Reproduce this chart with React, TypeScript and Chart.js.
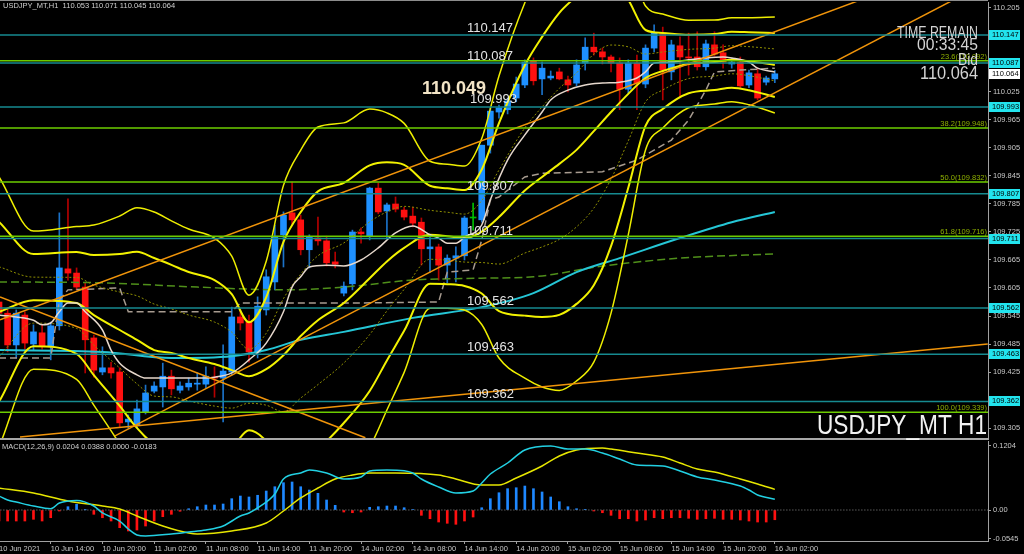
import React, { useEffect, useRef } from "react";
import { Chart, registerables } from "chart.js";
Chart.register(...registerables);

// ---------------- DATA ----------------
const tickIdx = [0, 6, 12, 18, 24, 30, 36, 42, 48, 54, 60, 66, 72, 78, 84, 90];
const tickLabels = ["10 Jun 2021", "10 Jun 14:00", "10 Jun 20:00", "11 Jun 02:00", "11 Jun 08:00", "11 Jun 14:00", "11 Jun 20:00", "14 Jun 02:00", "14 Jun 08:00", "14 Jun 14:00", "14 Jun 20:00", "15 Jun 02:00", "15 Jun 08:00", "15 Jun 14:00", "15 Jun 20:00", "16 Jun 02:00"];
const priceTicks = [110.205, 110.025, 109.965, 109.905, 109.845, 109.785, 109.725, 109.665, 109.605, 109.545, 109.485, 109.425, 109.305];
const macdTicks = [0.1204, 0, -0.0545];
const macdTickLabels = ["0.1204", "0.00", "-0.0545"];

const levels = [110.147, 110.087, 109.993, 109.807, 109.711, 109.562, 109.463, 109.362];
const fibLevels = [110.092, 109.948, 109.832, 109.716, 109.339];
const fibLabels = ["23.6(110.092)", "38.2(109.948)", "50.0(109.832)", "61.8(109.716)", "100.0(109.339)"];
const bidPrice = 110.064;
const markedPrice = 110.049;
const titleText = "USDJPY_MT,H1  110.053 110.071 110.045 110.064";
const macdText = "MACD(12,26,9) 0.0204 0.0388 0.0000 -0.0183";

const opens = [
  109.575, 109.551, 109.483, 109.547, 109.485, 109.509, 109.481, 109.524, 109.646, 109.637,
  109.607, 109.498, 109.425, 109.434, 109.425, 109.318, 109.311, 109.339, 109.384, 109.393,
  109.416, 109.386, 109.393, 109.399, 109.399, 109.414, 109.412, 109.425, 109.543, 109.532,
  109.468, 109.558, 109.618, 109.719, 109.766, 109.751, 109.687, 109.712, 109.706, 109.661,
  109.594, 109.614, 109.725, 109.716, 109.819, 109.770, 109.785, 109.772, 109.759, 109.746,
  109.689, 109.693, 109.654, 109.669, 109.674, 109.755, 109.751, 109.911, 109.982, 109.987,
  110.012, 110.040, 110.091, 110.053, 110.055, 110.068, 110.051, 110.044, 110.087, 110.121,
  110.111, 110.100, 110.087, 110.031, 110.087, 110.042, 110.119, 110.151, 110.068, 110.124,
  110.100, 110.100, 110.079, 110.126, 110.109, 110.085, 110.089, 110.040, 110.064, 110.046,
  110.053];
const highs = [
  109.584, 109.562, 109.558, 109.554, 109.526, 109.526, 109.532, 109.766, 109.796, 109.648,
  109.616, 109.504, 109.479, 109.446, 109.434, 109.333, 109.365, 109.397, 109.404, 109.444,
  109.429, 109.404, 109.412, 109.423, 109.436, 109.436, 109.483, 109.564, 109.558, 109.547,
  109.586, 109.644, 109.740, 109.768, 109.832, 109.761, 109.719, 109.757, 109.716, 109.682,
  109.618, 109.729, 109.734, 109.821, 109.830, 109.787, 109.800, 109.778, 109.778, 109.755,
  109.719, 109.699, 109.676, 109.693, 109.759, 109.787, 109.911, 109.991, 109.997, 110.012,
  110.057, 110.094, 110.098, 110.089, 110.070, 110.076, 110.059, 110.094, 110.141, 110.151,
  110.119, 110.104, 110.098, 110.094, 110.104, 110.126, 110.169, 110.164, 110.136, 110.143,
  110.151, 110.154, 110.136, 110.154, 110.126, 110.098, 110.100, 110.072, 110.076, 110.059,
  110.071];
const lows = [
  109.545, 109.468, 109.455, 109.474, 109.472, 109.474, 109.451, 109.515, 109.622, 109.601,
  109.423, 109.414, 109.419, 109.412, 109.307, 109.305, 109.305, 109.335, 109.380, 109.350,
  109.376, 109.380, 109.386, 109.386, 109.391, 109.371, 109.318, 109.419, 109.515, 109.446,
  109.455, 109.547, 109.601, 109.650, 109.740, 109.676, 109.648, 109.697, 109.652, 109.648,
  109.588, 109.601, 109.701, 109.708, 109.764, 109.712, 109.768, 109.751, 109.736, 109.654,
  109.639, 109.622, 109.616, 109.618, 109.665, 109.729, 109.746, 109.894, 109.969, 109.978,
  110.004, 110.034, 110.040, 110.019, 110.051, 110.051, 110.025, 110.038, 110.072, 110.104,
  110.085, 110.068, 109.987, 110.023, 109.987, 110.034, 110.111, 110.008, 110.051, 110.014,
  110.061, 110.072, 110.072, 110.102, 110.076, 110.076, 110.034, 110.034, 110.008, 110.040,
  110.045];
const closes = [
  109.551, 109.483, 109.551, 109.487, 109.511, 109.481, 109.524, 109.648, 109.637, 109.607,
  109.494, 109.429, 109.434, 109.423, 109.316, 109.324, 109.346, 109.380, 109.395, 109.416,
  109.389, 109.395, 109.401, 109.401, 109.416, 109.412, 109.427, 109.543, 109.530, 109.468,
  109.566, 109.629, 109.716, 109.761, 109.751, 109.687, 109.714, 109.706, 109.659, 109.656,
  109.609, 109.725, 109.721, 109.819, 109.768, 109.783, 109.774, 109.757, 109.744, 109.689,
  109.693, 109.654, 109.669, 109.674, 109.755, 109.755, 109.911, 109.984, 109.991, 110.006,
  110.042, 110.089, 110.049, 110.076, 110.059, 110.053, 110.040, 110.083, 110.121, 110.111,
  110.100, 110.087, 110.031, 110.087, 110.044, 110.119, 110.151, 110.072, 110.126, 110.100,
  110.098, 110.079, 110.128, 110.106, 110.089, 110.089, 110.038, 110.066, 110.012, 110.055,
  110.064];

// Bollinger (20) middle line and deviation
const bbIdx = [0, 4, 9, 11, 14, 16, 18, 20, 22, 25, 27, 29, 31, 33, 35, 37, 40, 43, 45, 47, 50, 52, 54, 56, 58, 61, 63, 65, 67, 69, 71, 73, 75, 77, 80, 83, 85, 87, 90];
const bbMid = [109.554, 109.579, 109.573, 109.547, 109.515, 109.494, 109.472, 109.466, 109.455, 109.442,
  109.429, 109.416, 109.431, 109.461, 109.502, 109.536, 109.573, 109.626, 109.662, 109.691,
  109.719, 109.716, 109.712, 109.726, 109.757, 109.814, 109.843, 109.871, 109.901, 109.941,
  109.982, 110.021, 110.055, 110.070, 110.085, 110.089, 110.094, 110.091, 110.083];
const bbDev = [0.0964, 0.0493, 0.0546, 0.0643, 0.0814, 0.0943, 0.0986, 0.0943, 0.0921, 0.0900,
  0.0814, 0.0579, 0.0771, 0.1213, 0.1328, 0.1380, 0.1286, 0.1208, 0.1061, 0.0889,
  0.0525, 0.0514, 0.0514, 0.0664, 0.1007, 0.1341, 0.1500, 0.1618, 0.1650, 0.1650,
  0.1436, 0.1007, 0.0514, 0.0407, 0.0313, 0.0300, 0.0300, 0.0311, 0.0343];

const maWhiteIdx = [0, 2, 4, 5, 6, 7, 8, 9, 10, 12, 13, 14, 16, 17, 20, 23, 25, 27, 29, 31, 33, 34, 35, 36, 38, 40, 42, 44, 46, 48, 50, 51, 52, 53, 54, 56, 57, 59, 61, 63, 64, 66, 68, 70, 72, 74, 75, 76, 78, 80, 82, 84, 85, 87, 88, 90];
const maWhite = [109.547, 109.543, 109.536, 109.526, 109.530, 109.554, 109.573, 109.573, 109.554, 109.515,
  109.472, 109.444, 109.419, 109.412, 109.412, 109.412, 109.414, 109.423, 109.451, 109.487,
  109.554, 109.607, 109.629, 109.650, 109.654, 109.652, 109.665, 109.691, 109.723, 109.738,
  109.719, 109.712, 109.701, 109.701, 109.714, 109.740, 109.794, 109.879, 109.933, 109.982,
  110.008, 110.029, 110.040, 110.044, 110.046, 110.055, 110.068, 110.087, 110.089, 110.094,
  110.098, 110.100, 110.098, 110.089, 110.076, 110.068];

const maGreyIdx = [0, 6, 7, 8, 14, 15, 27, 28, 42, 51, 52, 55, 56, 57, 58, 61, 63, 70, 74, 78, 80, 82, 83, 86, 90];
const maGrey = [109.455, 109.455, 109.579, 109.601, 109.605, 109.554, 109.554, 109.573, 109.573, 109.575,
  109.639, 109.644, 109.708, 109.794, 109.800, 109.843, 109.851, 109.854, 109.879, 109.922,
  109.965, 110.029, 110.068, 110.072, 110.076];

const maCyanIdx = [0, 12, 20, 27, 31, 35, 40, 48, 56, 62, 67, 72, 79, 85, 90];
const maCyan = [109.472, 109.468, 109.455, 109.459, 109.472, 109.494, 109.511, 109.541, 109.564, 109.594, 109.639, 109.669, 109.712, 109.746, 109.768];

const maGreenIdx = [0, 12, 23, 33, 40, 48, 56, 62, 70, 79, 90];
const maGreen = [109.618, 109.616, 109.607, 109.601, 109.607, 109.622, 109.626, 109.629, 109.652, 109.669, 109.678];

const trendStartIdx = [0.12, 13.46, 2.44, 0.12];
const trendStartPrice = [109.537, 109.288, 109.286, 109.586];
const trendEndIdx = [99.9, 110.7, 114.7, 42.5];
const trendEndPrice = [110.222, 110.222, 109.485, 109.284];

const hist = [
  -0.0207, -0.0207, -0.0207, -0.0207, -0.0175, -0.0207, -0.0145, -0.0019, 0.0062, 0.0107,
  0.0003, -0.0081, -0.0145, -0.0207, -0.0333, -0.0395, -0.0376, -0.0301, -0.0207, -0.0126,
  -0.0081, -0.0024, 0.0024, 0.0062, 0.0094, 0.0094, 0.0113, 0.0213, 0.0263, 0.0245,
  0.0277, 0.0357, 0.0438, 0.0514, 0.0527, 0.0438, 0.0376, 0.0314, 0.0188, 0.0088,
  -0.0038, -0.0051, -0.0038, 0.0051, 0.0062, 0.0075, 0.0075, 0.0043, 0.0008, -0.0100,
  -0.0164, -0.0226, -0.0250, -0.0269, -0.0207, -0.0132, 0.0043, 0.0213, 0.0325, 0.0401,
  0.0419, 0.0451, 0.0401, 0.0339, 0.0245, 0.0156, 0.0062, 0.0024, 0.0006, -0.0019,
  -0.0051, -0.0100, -0.0164, -0.0164, -0.0207, -0.0188, -0.0145, -0.0164, -0.0145, -0.0145,
  -0.0156, -0.0175, -0.0164, -0.0156, -0.0175, -0.0175, -0.0188, -0.0207, -0.0226, -0.0226,
  -0.0183];

const macdIdx = [0, 1, 2, 4, 6, 7, 9, 11, 12, 14, 15, 16, 17, 20, 22, 24, 26, 28, 29, 30, 32, 33, 35, 36, 38, 40, 42, 43, 45, 47, 48, 49, 51, 53, 55, 56, 57, 59, 61, 64, 66, 68, 70, 72, 74, 77, 79, 81, 83, 86, 87, 88, 90];
const macdLine = [0.0263, 0.0188, 0.0150, 0.0075, 0.0025, 0.0132, 0.0180, 0.0075, -0.0056, -0.0207,
  -0.0357, -0.0470, -0.0489, -0.0451, -0.0414, -0.0376, -0.0301, -0.0113, -0.0056, 0.0038,
  0.0301, 0.0583, 0.0696, 0.0752, 0.0696, 0.0583, 0.0621, 0.0734, 0.0752, 0.0740,
  0.0696, 0.0583, 0.0433, 0.0320, 0.0357, 0.0508, 0.0677, 0.0884, 0.1129, 0.1204,
  0.1147, 0.1147, 0.1072, 0.0959, 0.0846, 0.0828, 0.0734, 0.0621, 0.0564, 0.0451,
  0.0376, 0.0282, 0.0204];
const signalIdx = [0, 4, 8, 12, 14, 16, 19, 22, 23, 27, 31, 33, 35, 37, 39, 41, 43, 46, 51, 53, 56, 58, 60, 63, 65, 67, 70, 71, 74, 77, 79, 81, 83, 86, 88, 90];
const signalLine = [0.0414, 0.0320, 0.0169, 0.0075, 0.0019, -0.0113, -0.0301, -0.0433, -0.0451, -0.0395,
  -0.0245, -0.0019, 0.0226, 0.0414, 0.0583, 0.0658, 0.0696, 0.0696, 0.0658, 0.0583,
  0.0470, 0.0470, 0.0602, 0.0828, 0.1016, 0.1129, 0.1166, 0.1147, 0.1072, 0.0997,
  0.0884, 0.0771, 0.0715, 0.0583, 0.0489, 0.0388];

// ---------------- HELPERS ----------------
const X_MIN = 0.116, X_MAX = 114.73;
const FONT = '"Liberation Sans", Arial, sans-serif';
const pts = (xs: number[], ys: number[]) => xs.map((x, k) => ({ x, y: ys[k] }));
const hline = (v: number) => [{ x: X_MIN - 1, y: v }, { x: X_MAX + 1, y: v }];
const lineDs = (data: any, color: string, width: number, order: number, extra: any = {}) => ({
  type: "line", data, borderColor: color, borderWidth: width, pointRadius: 0, fill: false,
  tension: 0, order, ...extra,
});

function fitText(ctx: CanvasRenderingContext2D, text: string, xRight: number, yMid: number, font: string, color: string, width: number) {
  ctx.save();
  ctx.font = font;
  const w = ctx.measureText(text).width;
  ctx.translate(xRight - width, yMid);
  ctx.scale(width / w, 1);
  ctx.fillStyle = color;
  ctx.textAlign = "left";
  ctx.textBaseline = "middle";
  ctx.fillText(text, 0, 0);
  ctx.restore();
}

const priceOverlay = {
  id: "priceOverlay",
  afterDatasetsDraw(chart: any) {
    const { ctx, chartArea, scales } = chart;
    const y = scales.y;
    ctx.save();
    ctx.font = `13px ${FONT}`;
    ctx.fillStyle = "#e4e4e4";
    ctx.textAlign = "left";
    ctx.textBaseline = "middle";
    levels.forEach((v) => {
      const lx = v === 109.993 ? 470 : 467;
      ctx.fillText(v.toFixed(3), lx, y.getPixelForValue(v) - 7);
    });
    ctx.font = `7.5px ${FONT}`;
    ctx.fillStyle = "#8fb000";
    ctx.textAlign = "right";
    ctx.textBaseline = "bottom";
    fibLevels.forEach((v, k) => ctx.fillText(fibLabels[k], chartArea.right - 1, y.getPixelForValue(v) - 0.5));
    ctx.font = `bold 18px ${FONT}`;
    ctx.fillStyle = "#f2e4c6";
    ctx.textAlign = "left";
    ctx.textBaseline = "middle";
    ctx.fillText(markedPrice.toFixed(3), 422, y.getPixelForValue(markedPrice) + 8);
    ctx.restore();
  },
  afterDraw(chart: any) {
    const { ctx, chartArea, scales } = chart;
    const y = scales.y;
    ctx.save();
    ctx.fillStyle = "#8c8c8c";
    ctx.fillRect(0, 0, chartArea.right, 1);
    ctx.fillStyle = "#a8a8a8";
    ctx.fillRect(0, chartArea.bottom, chartArea.right + 1, 2);
    ctx.font = `7.5px ${FONT}`;
    ctx.fillStyle = "#d0d0d0";
    ctx.textAlign = "left";
    ctx.textBaseline = "middle";
    ctx.fillText(titleText, 3, 6);
    fitText(ctx, "TIME REMAIN", 978, 34, `16px ${FONT}`, "#d4d4d4", 81);
    fitText(ctx, "00:33:45", 978, 46, `16px ${FONT}`, "#d4d4d4", 61);
    fitText(ctx, "Bid", 978, 61, `16px ${FONT}`, "#d4d4d4", 20);
    fitText(ctx, bidPrice.toFixed(3), 978, 74, `18px ${FONT}`, "#d4d4d4", 58);
    fitText(ctx, "USDJPY_MT H1", 987, 427, `27px ${FONT}`, "#f2f2f2", 170);
    ctx.font = `7.5px ${FONT}`;
    const boxes = levels.map((v) => ({ v, bg: "#22e4ee" })).concat([{ v: bidPrice, bg: "#ffffff" }]);
    boxes.forEach((b) => {
      const py = Math.round(y.getPixelForValue(b.v));
      ctx.fillStyle = b.bg;
      ctx.fillRect(chartArea.right + 1, py - 5, 31, 10);
      ctx.fillStyle = "#000";
      ctx.textAlign = "left";
      ctx.textBaseline = "middle";
      ctx.fillText(b.v.toFixed(3), chartArea.right + 4, py);
    });
    ctx.restore();
  },
};

const macdOverlay = {
  id: "macdOverlay",
  afterDraw(chart: any) {
    const { ctx } = chart;
    ctx.save();
    ctx.font = `7.5px ${FONT}`;
    ctx.fillStyle = "#d0d0d0";
    ctx.textAlign = "left";
    ctx.textBaseline = "middle";
    ctx.fillText(macdText, 2, 7);
    ctx.restore();
  },
};

export default function App() {
  const priceRef = useRef<HTMLCanvasElement>(null);
  const macdRef = useRef<HTMLCanvasElement>(null);

  useEffect(() => {
    const idx = opens.map((_, i) => i);
    const dir = (i: number) => (closes[i] > opens[i] ? 1 : closes[i] < opens[i] ? -1 : 0);
    const bodyColors = idx.map((i) => (dir(i) > 0 ? "#1e90ff" : dir(i) < 0 ? "#ff1010" : "#00c000"));
    const wickColors = idx.map((i) => (dir(i) > 0 ? "#1b72c8" : dir(i) < 0 ? "#b40000" : "#00c000"));
    const band = (k: number) => bbIdx.map((x, j) => ({ x, y: bbMid[j] + k * bbDev[j] }));
    const smooth = { cubicInterpolationMode: "monotone" };

    const priceDatasets: any[] = [
      { type: "bar", data: idx.map((i) => ({ x: i, y: [lows[i], highs[i]] })), backgroundColor: wickColors, barThickness: 1, grouped: false, order: 30 },
      { type: "bar", data: idx.map((i) => ({ x: i, y: [opens[i], closes[i]] })), backgroundColor: bodyColors, barThickness: 6, minBarLength: 1, grouped: false, order: 29 },
      lineDs(pts(maGreenIdx, maGreen), "#4f8f1a", 1.5, 12, { borderDash: [8, 4], ...smooth }),
      lineDs(pts(maCyanIdx, maCyan), "#25c6d6", 2, 11, smooth),
      lineDs(pts(maGreyIdx, maGrey), "#a89c90", 1.5, 10, { borderDash: [7, 4] }),
      lineDs(band(1), "#8f8f00", 1, 9, { borderDash: [2, 2], ...smooth }),
      lineDs(band(-1), "#8f8f00", 1, 9, { borderDash: [2, 2], ...smooth }),
      lineDs(band(3), "#eeee00", 1.5, 8, smooth),
      lineDs(band(-3), "#eeee00", 1.5, 8, smooth),
      lineDs(band(2), "#f2f200", 2, 7, smooth),
      lineDs(band(-2), "#f2f200", 2, 7, smooth),
      lineDs(band(0), "#f2f200", 2, 7, smooth),
      lineDs(pts(maWhiteIdx, maWhite), "#e6d8cc", 1.5, 6, smooth),
      ...trendStartIdx.map((x, k) => lineDs([{ x, y: trendStartPrice[k] }, { x: trendEndIdx[k], y: trendEndPrice[k] }], "#f0940a", 1.5, 5)),
      ...levels.map((v) => lineDs(hline(v), "#168a90", 1.5, 3)),
      ...fibLevels.map((v) => lineDs(hline(v), "#6ccc00", 1.5, 2)),
    ];

    const price = new Chart(priceRef.current as HTMLCanvasElement, {
      type: "bar",
      data: { datasets: priceDatasets },
      options: {
        animation: false,
        responsive: false,
        events: [],
        layout: { padding: { top: 2, bottom: 2, left: 0, right: 0 } },
        plugins: { legend: { display: false }, tooltip: { enabled: false } },
        scales: {
          x: { type: "linear", min: X_MIN, max: X_MAX, offset: false, display: false, grid: { offset: false } },
          y: {
            type: "linear", position: "right", min: 109.2836, max: 110.2178,
            afterFit: (s: any) => { s.width = 36; s.paddingTop = 0; s.paddingBottom = 0; },
            afterBuildTicks: (s: any) => { s.ticks = priceTicks.map((v) => ({ value: v })); },
            ticks: { callback: (v: any) => Number(v).toFixed(3), color: "#c8c8c8", font: { family: FONT, size: 7.5 }, padding: 2, autoSkip: false },
            grid: { drawOnChartArea: false, drawTicks: true, tickLength: 3, color: "#a0a0a0" },
            border: { display: true, color: "#a0a0a0", width: 1 },
          },
        },
      } as any,
      plugins: [priceOverlay],
    } as any);

    const macd = new Chart(macdRef.current as HTMLCanvasElement, {
      type: "bar",
      data: {
        datasets: [
          { type: "bar", data: idx.map((i) => ({ x: i, y: hist[i] })), backgroundColor: hist.map((v) => (v >= 0 ? "#1e88ff" : "#ff1010")), barThickness: 2, order: 10 },
          lineDs(hline(0), "#8a8a8a", 1, 9, { borderDash: [1, 2] }),
          lineDs(pts(signalIdx, signalLine), "#e6e600", 1.5, 2, { cubicInterpolationMode: "monotone" }),
          lineDs(pts(macdIdx, macdLine), "#22d0e2", 1.5, 1, { cubicInterpolationMode: "monotone" }),
        ] as any,
      },
      options: {
        animation: false,
        responsive: false,
        events: [],
        layout: { padding: { top: 1, bottom: 0, left: 0, right: 0 } },
        plugins: { legend: { display: false }, tooltip: { enabled: false } },
        scales: {
          x: {
            type: "linear", position: "bottom", min: X_MIN, max: X_MAX, offset: false,
            afterFit: (s: any) => { s.height = 13; s.paddingLeft = 0; s.paddingRight = 0; },
            afterBuildTicks: (s: any) => { s.ticks = tickIdx.map((v) => ({ value: v })); },
            ticks: {
              callback: (v: any) => tickLabels[tickIdx.indexOf(Number(v))] ?? "",
              align: "start", maxRotation: 0, minRotation: 0, autoSkip: false, padding: 0,
              color: "#c8c8c8", font: { family: FONT, size: 7.5 },
            },
            grid: { offset: false, drawOnChartArea: false, drawTicks: true, tickLength: 3, color: "#a0a0a0" },
            border: { display: true, color: "#a0a0a0", width: 1 },
          },
          y: {
            type: "linear", position: "right", min: -0.0583, max: 0.1298,
            afterFit: (s: any) => { s.width = 36; s.paddingTop = 0; s.paddingBottom = 0; },
            afterBuildTicks: (s: any) => { s.ticks = macdTicks.map((v) => ({ value: v })); },
            ticks: {
              callback: (v: any) => macdTickLabels[macdTicks.indexOf(Number(v))] ?? "",
              color: "#c8c8c8", font: { family: FONT, size: 7.5 }, padding: 2, autoSkip: false,
            },
            grid: { drawOnChartArea: false, drawTicks: true, tickLength: 3, color: "#a0a0a0" },
            border: { display: true, color: "#a0a0a0", width: 1 },
          },
        },
      } as any,
      plugins: [macdOverlay],
    } as any);

    return () => { price.destroy(); macd.destroy(); };
  }, []);

  return (
    <div style={{ position: "fixed", left: 0, top: 0, width: 1024, height: 554, background: "#000", overflow: "hidden" }}>
      <canvas ref={priceRef} width={1024} height={440} style={{ position: "absolute", left: 0, top: 0, width: 1024, height: 440, display: "block" }} />
      <canvas ref={macdRef} width={1024} height={114} style={{ position: "absolute", left: 0, top: 440, width: 1024, height: 114, display: "block" }} />
    </div>
  );
}
